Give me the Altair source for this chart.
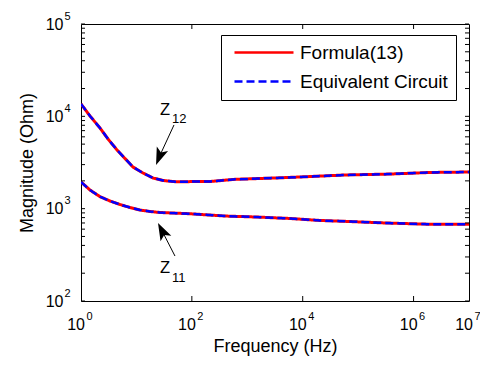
import altair as alt
import pandas as pd

FONT = "Liberation Sans"

# ---- data ----
series_names = ["Formula(13)", "Equivalent Circuit"]
series_colors = ["#ff0000", "#0000ff"]
series_dash = [[1, 0], [8, 4]]

z12_freq = [1, 1.453, 2.2, 3.07, 4.46, 6.22, 8.67, 13.14, 19.9, 30.2, 49.7, 212, 600,
            3162, 13520, 57940, 375800, 1977000, 1e7]
z12_mag = [13614, 10083, 7482, 5682, 4325, 3494, 2825, 2434, 2148, 2018, 1959, 1968, 2080,
           2148, 2228, 2317, 2371, 2466, 2495]

z11_freq = [1, 1.453, 2.2, 3.337, 5.05, 7.66, 11.6, 17.57, 26.6, 92.5, 396, 1377, 5902,
            20510, 57940, 304800, 1977000, 1e7]
z11_mag = [1945, 1593, 1349, 1211, 1110, 1029, 967, 932, 909, 881, 832, 813, 783,
           745, 729, 700, 678, 678]

x_label_vals = [1, 100, 10000, 1000000, 10000000]
x_label_exp = ["0", "2", "4", "6", "7"]
x_tick_vals = [100, 10000, 1000000]
y_label_vals = [100, 1000, 10000, 100000]
y_label_exp = ["2", "3", "4", "5"]
y_tick_vals = [100, 200, 300, 400, 500, 600, 700, 800, 900,
               1000, 2000, 3000, 4000, 5000, 6000, 7000, 8000, 9000,
               10000, 20000, 30000, 40000, 50000, 60000, 70000, 80000, 90000, 100000]

# annotations (data coordinates)
ann_main = ["Z", "Z"]
ann_sub = ["12", "11"]
ann_main_freq = [26.6, 26.6]
ann_main_mag = [10210, 201]
ann_sub_freq = [43.8, 43.8]
ann_sub_mag = [8570, 161]
arrow_tail_freq = [47.6, 49.6]
arrow_tail_mag = [8060, 307]
arrow_head_freq = [25.8, 28.9]
arrow_head_mag = [3636, 577]
arrow_angle = [201.6, 332.7]

rows = []
for s in series_names:
    for f, m in zip(z12_freq, z12_mag):
        rows.append({"series": s, "curve": "Z12", "freq": f, "mag": m})
    for f, m in zip(z11_freq, z11_mag):
        rows.append({"series": s, "curve": "Z11", "freq": f, "mag": m})
df = pd.DataFrame(rows)

ann_df = pd.DataFrame({
    "main": ann_main, "sub": ann_sub,
    "mf": ann_main_freq, "mm": ann_main_mag,
    "sf": ann_sub_freq, "sm": ann_sub_mag,
    "tf": arrow_tail_freq, "tm": arrow_tail_mag,
    "hf": arrow_head_freq, "hm": arrow_head_mag,
    "ang": arrow_angle,
})
xlab_df = pd.DataFrame({"v": x_label_vals, "e": x_label_exp, "b": ["10"] * len(x_label_vals)})
ylab_df = pd.DataFrame({"v": y_label_vals, "e": y_label_exp, "b": ["10"] * len(y_label_vals)})
xtick_df = pd.DataFrame({"v": x_tick_vals})
ytick_df = pd.DataFrame({"v": y_tick_vals})

W, H = 388, 277
xscale = alt.Scale(type="log", domain=[1, 1e7])
yscale = alt.Scale(type="log", domain=[100, 1e5])

legend = alt.Legend(
    title=None, orient="none", legendX=140, legendY=11,
    symbolType="M-0.5,0L6.875,0", symbolSize=256, symbolStrokeWidth=2.5,
    labelFont=FONT, labelFontSize=19, labelColor="black", labelOffset=52,
    padding=8, strokeColor="black", fillColor="white", rowPadding=9,
    cornerRadius=0, labelLimit=300,
)
color = alt.Color("series:N", scale=alt.Scale(domain=series_names, range=series_colors), legend=legend)
dash = alt.StrokeDash("series:N", scale=alt.Scale(domain=series_names, range=series_dash), legend=legend)

ax_bottom = alt.Axis(orient="bottom", ticks=False, labels=False, domain=False, grid=False,
                     title="Frequency (Hz)", titleFont=FONT, titleFontSize=18,
                     titleFontWeight="normal", titleColor="black", titlePadding=36)
ax_left = alt.Axis(orient="left", ticks=False, labels=False, domain=False, grid=False,
                   title="Magnitude (Ohm)", titleFont=FONT, titleFontSize=18,
                   titleFontWeight="normal", titleColor="black", titlePadding=45)

base = alt.Chart(df)

red = base.transform_filter(alt.datum.series == series_names[0]).mark_line(
    strokeWidth=3, clip=True).encode(
    x=alt.X("freq:Q", scale=xscale, axis=ax_bottom),
    y=alt.Y("mag:Q", scale=yscale, axis=ax_left),
    color=color, strokeDash=dash, detail="curve:N")

blue = base.transform_filter(alt.datum.series == series_names[1]).mark_line(
    strokeWidth=2.5, clip=True).encode(
    x=alt.X("freq:Q", scale=xscale),
    y=alt.Y("mag:Q", scale=yscale),
    color=color, strokeDash=dash, detail="curve:N")

# inward ticks
xt = alt.Chart(xtick_df)
xtick_bottom = xt.mark_rule(color="black", strokeWidth=1).encode(
    x=alt.X("v:Q", scale=xscale), y=alt.value(H), y2=alt.value(H - 5))
xtick_top = xt.mark_rule(color="black", strokeWidth=1).encode(
    x=alt.X("v:Q", scale=xscale), y=alt.value(0), y2=alt.value(5))
yt = alt.Chart(ytick_df)
ytick_left = yt.mark_rule(color="black", strokeWidth=1).encode(
    y=alt.Y("v:Q", scale=yscale), x=alt.value(0), x2=alt.value(4))
ytick_right = yt.mark_rule(color="black", strokeWidth=1).encode(
    y=alt.Y("v:Q", scale=yscale), x=alt.value(W), x2=alt.value(W - 4))

# tick labels 10^n
xl = alt.Chart(xlab_df)
xlab_base = xl.mark_text(align="right", baseline="alphabetic", font=FONT, fontSize=16,
                         color="black", dx=4).encode(
    x=alt.X("v:Q", scale=xscale), y=alt.value(H + 29), text="b:N")
xlab_exp = xl.mark_text(align="left", baseline="alphabetic", font=FONT, fontSize=11,
                        color="black", dx=5.5).encode(
    x=alt.X("v:Q", scale=xscale), y=alt.value(H + 19), text="e:N")
yl = alt.Chart(ylab_df)
ylab_base = yl.mark_text(align="right", baseline="alphabetic", font=FONT, fontSize=16,
                         color="black", dy=5.7).encode(
    y=alt.Y("v:Q", scale=yscale), x=alt.value(-17.5), text="b:N")
ylab_exp = yl.mark_text(align="left", baseline="alphabetic", font=FONT, fontSize=11,
                        color="black", dy=-4.5).encode(
    y=alt.Y("v:Q", scale=yscale), x=alt.value(-16.5), text="e:N")

# annotations
ann = alt.Chart(ann_df)
main_txt = ann.mark_text(align="left", baseline="alphabetic", font=FONT, fontSize=16.5,
                         color="black").encode(
    x=alt.X("mf:Q", scale=xscale), y=alt.Y("mm:Q", scale=yscale), text="main:N")
sub_txt = ann.mark_text(align="left", baseline="alphabetic", font=FONT, fontSize=13,
                        color="black").encode(
    x=alt.X("sf:Q", scale=xscale), y=alt.Y("sm:Q", scale=yscale), text="sub:N")
shaft = ann.mark_rule(color="black", strokeWidth=1).encode(
    x=alt.X("tf:Q", scale=xscale), y=alt.Y("tm:Q", scale=yscale),
    x2="hf:Q", y2="hm:Q")
head = ann.mark_point(shape="M0,-1L0.7,1L0,0.55L-0.7,1Z", filled=True, color="black",
                      opacity=1, size=300).encode(
    x=alt.X("hf:Q", scale=xscale), y=alt.Y("hm:Q", scale=yscale),
    angle=alt.Angle("ang:Q", scale=None))

chart = alt.layer(
    red, blue, xtick_bottom, xtick_top, ytick_left, ytick_right,
    xlab_base, xlab_exp, ylab_base, ylab_exp, shaft, head, main_txt, sub_txt
).properties(
    width=W, height=H,
    padding={"left": 73, "top": 16, "right": 11, "bottom": 56},
    autosize=alt.AutoSizeParams(type="none"),
    background="white",
).configure_view(stroke="black", strokeWidth=1)

chart.save("out.html", embed_options={"renderer": "svg", "actions": False})
